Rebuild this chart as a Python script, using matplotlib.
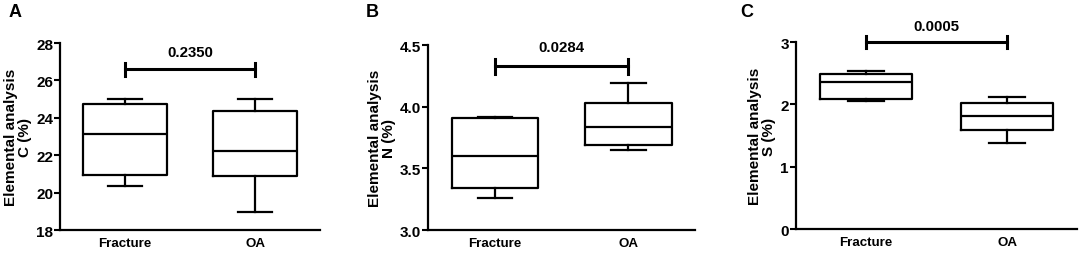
import matplotlib
matplotlib.use("Agg")
import matplotlib.pyplot as plt

plt.rcParams['font.family'] = ['Liberation Sans', 'DejaVu Sans']
plt.rcParams['font.weight'] = 'bold'

groups = ['Fracture', 'OA']

# five-number summaries: min, q1, median, q3, max
c_stats = [[20.35, 20.95, 23.15, 24.75, 25.0], [18.95, 20.9, 22.25, 24.35, 25.0]]
n_stats = [[3.26, 3.34, 3.60, 3.91, 3.92], [3.65, 3.69, 3.84, 4.03, 4.19]]
s_stats = [[2.05, 2.08, 2.36, 2.48, 2.54], [1.38, 1.59, 1.81, 2.02, 2.12]]

p_values = ['0.2350', '0.0284', '0.0005']
elements = ['C', 'N', 'S']
panel_letters = ['A', 'B', 'C']
ylims = [(18, 28), (3.0, 4.5), (0, 3)]
yticks = [[18, 20, 22, 24, 26, 28], [3.0, 3.5, 4.0, 4.5], [0, 1, 2, 3]]
ytick_fmt = ['{:.0f}', '{:.1f}', '{:.0f}']
bracket_y = [26.6, 4.33, 3.0]
bracket_tick = [0.35, 0.06, 0.09]

axes_rects = [
    [0.0554, 0.094, 0.240, 0.733],
    [0.395, 0.094, 0.246, 0.725],
    [0.734, 0.098, 0.260, 0.733],
]
letter_x = [0.008, 0.337, 0.683]

fig = plt.figure(figsize=(10.84, 2.55), dpi=100)

all_stats = [c_stats, n_stats, s_stats]
for i in range(3):
    ax = fig.add_axes(axes_rects[i])
    stats = []
    for g, (lo, q1, med, q3, hi) in zip(groups, all_stats[i]):
        stats.append(dict(label=g, whislo=lo, q1=q1, med=med, q3=q3, whishi=hi, fliers=[]))
    lw = 1.6
    ax.bxp(stats, positions=[0, 1], widths=0.65, capwidths=0.26, showfliers=False,
           boxprops=dict(color='black', linewidth=lw),
           whiskerprops=dict(color='black', linewidth=lw),
           capprops=dict(color='black', linewidth=lw),
           medianprops=dict(color='black', linewidth=lw))
    ax.set_xlim(-0.5, 1.5)
    ax.set_ylim(*ylims[i])
    ax.set_yticks(yticks[i])
    ax.set_yticklabels([ytick_fmt[i].format(t) for t in yticks[i]], fontsize=11, fontweight='bold')
    ax.set_xticks([0, 1])
    ax.set_xticklabels(groups, fontsize=9.6, fontweight='bold')
    ax.tick_params(axis='x', length=0, pad=5)
    ax.tick_params(axis='y', length=4, width=1.5, pad=1)
    for side in ['top', 'right']:
        ax.spines[side].set_visible(False)
    for side in ['left', 'bottom']:
        ax.spines[side].set_linewidth(1.6)
    ax.set_ylabel('Elemental analysis\n' + elements[i] + ' (%)', fontsize=11, fontweight='bold',
                  labelpad=3, linespacing=1.0)

    # significance bracket
    by = bracket_y[i]
    bt = bracket_tick[i]
    ax.plot([0, 1], [by, by], color='black', linewidth=2.2, clip_on=False)
    ax.plot([0, 0], [by - bt, by + bt], color='black', linewidth=2.2, clip_on=False)
    ax.plot([1, 1], [by - bt, by + bt], color='black', linewidth=2.2, clip_on=False)
    ax.text(0.5, by + bt * 1.6, p_values[i], ha='center', va='bottom', fontsize=10.8,
            fontweight='bold', clip_on=False)

    fig.text(letter_x[i], 0.985, panel_letters[i], ha='left', va='top', fontsize=13,
             fontweight='bold')

fig.savefig('out.png', dpi=100)
